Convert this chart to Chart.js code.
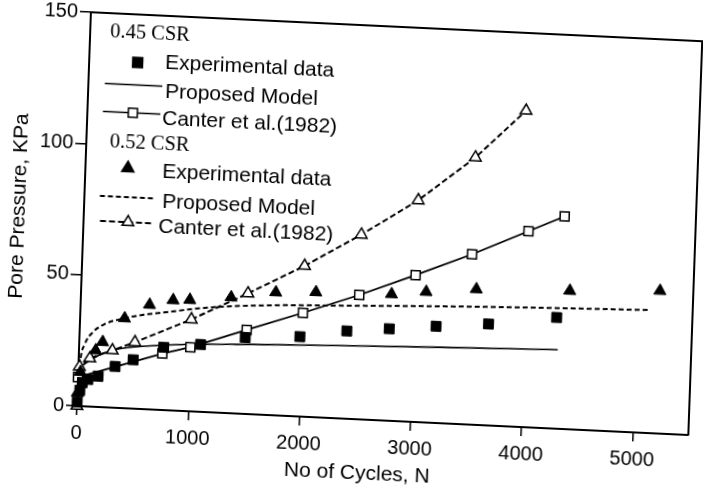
<!DOCTYPE html>
<html>
<head>
<meta charset="utf-8">
<script src="https://cdn.jsdelivr.net/npm/chart.js@4.4.1/dist/chart.umd.min.js"></script>
<style>
  html, body { margin: 0; padding: 0; background: #fff; overflow: hidden; }
  /* the scanned figure is slightly skewed, so the canvas is too */
  #chart { position: absolute; left: 0; top: 0;
           transform-origin: 77px 406px;
           transform: matrix(0.9989, 0.0474, -0.0353, 0.9994, 0, 0); }
</style>
</head>
<body>
<canvas id="chart" width="703" height="490"></canvas>
<script>
// 0.45 CSR
const expN045 = [0, 20, 40, 90, 180, 330, 490, 760, 1090, 1490, 1980, 2400, 2780, 3200, 3670, 4280];
const expP045 = [1.5, 6, 9, 10.3, 11.7, 15.7, 18.6, 23.9, 25.6, 29.1, 30.4, 33.4, 35, 36.8, 38.6, 42.3];
const modelN045 = [0, 10, 50, 180, 300, 480, 870, 1450, 2400, 3250, 4300];
const modelP045 = [0, 12, 16, 19.7, 21.8, 23.4, 25.1, 26.4, 27.8, 28.9, 30.1];
const canterN045 = [0, 750, 1000, 1500, 2000, 2500, 3000, 3500, 4000, 4320];
const canterP045 = [11, 21.5, 24.4, 32, 39.5, 47.3, 55.9, 64.8, 74.6, 80.9];

// 0.52 CSR
const expN052 = [0, 20, 150, 210, 400, 620, 830, 980, 1350, 1750, 2110, 2790, 3100, 3550, 4390, 5200];
const expP052 = [5, 13, 21.5, 24.8, 34.2, 39.8, 42, 42.4, 44.1, 46.8, 47.6, 48.2, 49.7, 51.6, 52.7, 54.3];
const modelN052 = [0, 10, 50, 120, 230, 380, 560, 800, 1150, 1600, 2500, 3250, 4200, 5100];
const modelP052 = [0, 14, 23.5, 28.4, 31.8, 34, 35.8, 37.5, 39.8, 41.5, 43.2, 44.5, 45.8, 46.8];
const canterN052 = [0, 10, 100, 300, 500, 1000, 1500, 2000, 2500, 3000, 3500, 3940];
const canterP052 = [0, 15, 18.4, 21.8, 25.3, 35, 45.9, 57.4, 70.3, 84.4, 101.7, 120.4];

const xTicks = [0, 1000, 2000, 3000, 4000, 5000];
const yTicks = [0, 50, 100, 150];

const SANS = '"Liberation Sans", Arial, sans-serif';
const SERIF = '"Liberation Serif", "Times New Roman", serif';

function pts(xs, ys) {
    return xs.map((x, i) => ({ x: x, y: ys[i] }));
}

function marker(ctx, style, x, y, r, filled) {
    ctx.beginPath();
    if (style === 'rect') {
        const s = Math.SQRT1_2 * r;
        ctx.rect(x - s, y - s, 2 * s, 2 * s);
    } else {
        ctx.moveTo(x, y - r);
        ctx.lineTo(x + r * Math.sin(Math.PI / 3), y + r / 2);
        ctx.lineTo(x - r * Math.sin(Math.PI / 3), y + r / 2);
        ctx.closePath();
    }
    ctx.fillStyle = filled ? '#000' : '#fff';
    ctx.fill();
    ctx.lineWidth = 1.5;
    ctx.strokeStyle = '#000';
    ctx.stroke();
}

const framePlugin = {
    id: 'frameAndLegend',
    afterDraw(chart) {
        const ctx = chart.ctx;
        const a = chart.chartArea;
        ctx.save();
        ctx.strokeStyle = '#000';
        ctx.lineWidth = 2;
        ctx.beginPath();
        ctx.moveTo(a.left, a.top);
        ctx.lineTo(a.right, a.top);
        ctx.lineTo(a.right, a.bottom);
        ctx.stroke();

        ctx.fillStyle = '#000';
        ctx.textAlign = 'left';
        ctx.textBaseline = 'middle';
        ctx.font = '21px ' + SANS;
        ctx.save();
        ctx.textAlign = 'center';
        ctx.fillText('No of Cycles, N', 359, 460);
        ctx.restore();

        // legend, drawn by hand because of the two group headings
        ctx.font = '20.5px ' + SERIF;
        ctx.fillText('0.45 CSR', 97, 31);
        ctx.fillText('0.52 CSR', 100.5, 141);

        ctx.font = '21px ' + SANS;
        marker(ctx, 'rect', 125.5, 60, 7, true);
        ctx.fillStyle = '#000';
        ctx.fillText('Experimental data', 153, 59.5);

        ctx.lineWidth = 1.5;
        ctx.setLineDash([]);
        ctx.beginPath(); ctx.moveTo(93.5, 82.5); ctx.lineTo(151, 82.5); ctx.stroke();
        ctx.fillText('Proposed Model', 154, 88.5);

        ctx.beginPath(); ctx.moveTo(92.5, 110.5); ctx.lineTo(150, 110.5); ctx.stroke();
        marker(ctx, 'rect', 122.5, 110.5, 6.4, false);
        ctx.fillStyle = '#000';
        ctx.fillText('Canter et al.(1982)', 152, 115.5);

        marker(ctx, 'triangle', 119.5, 166, 7, true);
        ctx.fillStyle = '#000';
        ctx.fillText('Experimental data', 154, 168.5);

        ctx.lineWidth = 2;
        ctx.setLineDash([5, 3]);
        ctx.beginPath(); ctx.moveTo(92.5, 195); ctx.lineTo(146, 195); ctx.stroke();
        ctx.fillText('Proposed Model', 155, 198.5);

        ctx.setLineDash([6, 3]);
        ctx.beginPath(); ctx.moveTo(93.5, 220); ctx.lineTo(147, 220); ctx.stroke();
        ctx.setLineDash([]);
        marker(ctx, 'triangle', 121.5, 220, 6.7, false);
        ctx.fillStyle = '#000';
        ctx.fillText('Canter et al.(1982)', 152, 223.5);
        ctx.restore();
    }
};

new Chart(document.getElementById('chart'), {
    type: 'scatter',
    data: {
        datasets: [
            {
                label: '0.45 CSR Experimental data',
                data: pts(expN045, expP045),
                pointStyle: 'rect', pointRadius: 7,
                backgroundColor: '#000', borderColor: '#000', borderWidth: 1,
                order: 1, clip: false
            },
            {
                label: '0.52 CSR Experimental data',
                data: pts(expN052, expP052),
                pointStyle: 'triangle', pointRadius: 7,
                backgroundColor: '#000', borderColor: '#000', borderWidth: 1,
                order: 1, clip: false
            },
            {
                label: '0.45 CSR Canter et al.(1982)',
                data: pts(canterN045, canterP045),
                showLine: true,
                borderColor: '#000', borderWidth: 1.8,
                pointStyle: 'rect', pointRadius: 6.4,
                pointBackgroundColor: '#fff', pointBorderColor: '#000', pointBorderWidth: 1.5,
                order: 2, clip: false
            },
            {
                label: '0.52 CSR Canter et al.(1982)',
                data: pts(canterN052, canterP052),
                showLine: true,
                borderColor: '#000', borderWidth: 2, borderDash: [6, 3],
                pointStyle: 'triangle', pointRadius: 6.7,
                pointBackgroundColor: '#fff', pointBorderColor: '#000', pointBorderWidth: 1.5,
                order: 2, clip: false
            },
            {
                label: '0.45 CSR Proposed Model',
                data: pts(modelN045, modelP045),
                showLine: true, pointRadius: 0,
                borderColor: '#000', borderWidth: 1.6,
                cubicInterpolationMode: 'monotone',
                order: 3, clip: false
            },
            {
                label: '0.52 CSR Proposed Model',
                data: pts(modelN052, modelP052),
                showLine: true, pointRadius: 0,
                borderColor: '#000', borderWidth: 2, borderDash: [5, 3],
                cubicInterpolationMode: 'monotone',
                order: 3, clip: false
            }
        ]
    },
    options: {
        responsive: false,
        animation: false,
        events: [],
        layout: { padding: { top: 10, right: 14, left: 0, bottom: 0 } },
        plugins: {
            legend: { display: false },
            tooltip: { enabled: false }
        },
        scales: {
            x: {
                type: 'linear',
                min: 0, max: 5500,
                afterFit: s => { s.height = 84; },
                afterBuildTicks: s => { s.ticks = xTicks.map(v => ({ value: v })); },
                ticks: {
                    color: '#000', font: { family: SANS, size: 20 }, padding: 6, maxRotation: 0,
                    callback: v => String(v)
                },
                grid: { drawOnChartArea: false, tickLength: 9, color: '#000', lineWidth: 1.5 },
                border: { color: '#000', width: 2 }
            },
            y: {
                min: 0, max: 150,
                afterFit: s => { s.width = 77; },
                afterBuildTicks: s => { s.ticks = yTicks.map(v => ({ value: v })); },
                ticks: {
                    color: '#000', font: { family: SANS, size: 20, lineHeight: 1 }, padding: 2,
                    callback: v => String(v)
                },
                grid: { drawOnChartArea: false, tickLength: 11, color: '#000', lineWidth: 1.5 },
                border: { color: '#000', width: 2 },
                title: {
                    display: true, text: 'Pore Pressure, KPa', color: '#000',
                    font: { family: SANS, size: 21 }, padding: 0
                }
            }
        }
    },
    plugins: [framePlugin]
});
</script>
</body>
</html>
